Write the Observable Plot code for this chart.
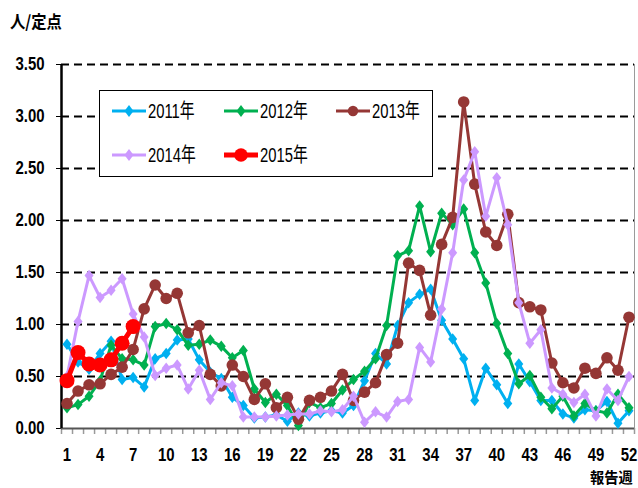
<!DOCTYPE html>
<html>
<head>
<meta charset="utf-8">
<script src="https://cdn.jsdelivr.net/npm/d3@7"></script>
<script src="https://cdn.jsdelivr.net/npm/@observablehq/plot@0.6"></script>
<style>
  html, body { margin: 0; padding: 0; background: #fff; }
  #wrap { position: relative; width: 638px; height: 488px; overflow: hidden;
          font-family: "Liberation Sans", Arial, sans-serif; }
  #ylab { position: absolute; left: 10px; top: 12px; font-size: 17px; line-height: 17px; font-weight: bold;
          font-family: "Noto Sans CJK JP", sans-serif; transform: scaleX(0.9); transform-origin: left top; white-space: nowrap; }
  #xlab { position: absolute; left: 590px; top: 468px; font-size: 15px; line-height: 17px; font-weight: bold;
          font-family: "Noto Sans CJK JP", sans-serif; transform: scaleX(0.95); transform-origin: left top; white-space: nowrap; }
  #legend { position: absolute; left: 99px; top: 90px; width: 332px; height: 85px;
            border: 1.5px solid #000; background: #fff; }
  .item { position: absolute; display: flex; align-items: center; white-space: nowrap; }
  .item svg { display: block; margin-right: 2px; flex: none; }
  .item span { display: inline-block; font-size: 20px; line-height: 24px;
               font-family: "Liberation Sans", "Noto Sans CJK JP", sans-serif;
               transform: scaleX(0.74); transform-origin: left center; }
</style>
</head>
<body>
<div id="wrap">
  <div id="chart"></div>
  <div id="ylab">人/定点</div>
  <div id="xlab">報告週</div>
  <div id="legend"></div>
</div>
<script>
const weeks = d3.range(1, 53);
const xTickWeeks = [1, 4, 7, 10, 13, 16, 19, 22, 25, 28, 31, 34, 37, 40, 43, 46, 49, 52];
const yTicks = [0, 0.5, 1.0, 1.5, 2.0, 2.5, 3.0, 3.5];
const seriesNames = ["2011年", "2012年", "2013年", "2014年", "2015年"];
const seriesColors = ["#00B0F0", "#00B050", "#953735", "#CC99FF", "#FF0000"];

const v2011 = [0.81, 0.64, 0.57, 0.72, 0.84, 0.47, 0.49, 0.40, 0.67, 0.72,
               0.85, 0.86, 0.66, 0.54, 0.48, 0.30, 0.22, 0.10, 0.11, 0.13,
               0.07, 0.15, 0.12, 0.15, 0.17, 0.15, 0.22, 0.46, 0.72, 0.62,
               0.99, 1.21, 1.29, 1.34, 1.04, 0.86, 0.67, 0.27, 0.58, 0.42,
               0.24, 0.62, 0.45, 0.27, 0.27, 0.14, 0.10, 0.18, 0.17, 0.26,
               0.05, 0.17];
const v2012 = [0.20, 0.23, 0.31, 0.46, 0.80, 0.67, 0.66, 0.61, 0.98, 1.01,
               0.95, 0.80, 0.81, 0.85, 0.79, 0.68, 0.75, 0.38, 0.25, 0.33,
               0.22, 0.03, 0.25, 0.20, 0.24, 0.37, 0.47, 0.55, 0.67, 0.99,
               1.66, 1.71, 2.14, 1.70, 2.07, 1.96, 2.11, 1.69, 1.40, 1.01,
               0.72, 0.43, 0.51, 0.30, 0.19, 0.31, 0.12, 0.24, 0.17, 0.15,
               0.33, 0.20];
const v2013 = [0.24, 0.36, 0.42, 0.43, 0.52, 0.59, 0.76, 1.15, 1.38, 1.25,
               1.30, 0.92, 0.99, 0.52, 0.41, 0.61, 0.50, 0.28, 0.43, 0.20,
               0.30, 0.09, 0.27, 0.30, 0.36, 0.52, 0.27, 0.35, 0.44, 0.71,
               0.82, 1.59, 1.52, 1.09, 1.77, 2.03, 3.14, 2.35, 1.89, 1.76,
               2.06, 1.21, 1.17, 1.14, 0.63, 0.44, 0.39, 0.58, 0.53, 0.68,
               0.56, 1.07];
const v2014 = [0.50, 1.03, 1.47, 1.26, 1.33, 1.44, 1.10, 0.88, 0.51, 0.58,
               0.61, 0.38, 0.56, 0.28, 0.44, 0.41, 0.11, 0.11, 0.11, 0.12,
               0.13, 0.14, 0.14, 0.17, 0.16, 0.18, 0.31, 0.06, 0.16, 0.11,
               0.26, 0.28, 0.78, 0.64, 1.15, 1.69, 2.39, 2.66, 2.04, 2.41,
               1.96, 1.21, 0.82, 0.95, 0.39, 0.33, 0.25, 0.33, 0.12, 0.38,
               0.27, 0.50];
const v2015 = [0.46, 0.73, 0.62, 0.61, 0.66, 0.82, 0.98];

const seriesValues = [v2011, v2012, v2013, v2014, v2015];
const seriesShapes = ["diamond", "diamond", "circle", "diamond", "circle"];
const seriesR = [4.6, 4.6, 5.8, 4.6, 7.5];
const seriesW = [3, 3, 3, 3, 5];

const tallDiamond = {
  draw(ctx, size) {
    const r = Math.sqrt(size / Math.PI);
    const h = r * 1.25, w = r * 0.98;
    ctx.moveTo(0, -h); ctx.lineTo(w, 0); ctx.lineTo(0, h); ctx.lineTo(-w, 0); ctx.closePath();
  }
};

const marks = [
  Plot.gridY(yTicks.filter(d => d > 0), {stroke: "#000", strokeOpacity: 1, strokeWidth: 2, strokeDasharray: "8,5"}),
  Plot.ruleX([52.5], {stroke: "#9a9a9a", strokeWidth: 1}),
  Plot.axisY(yTicks, {tickSize: 5, tickPadding: 12, tickFormat: d => d.toFixed(2),
    fontSize: 18, fontWeight: "bold", stroke: "#000", label: null}),
  Plot.axisX(d3.range(0.5, 53, 1), {tickSize: 6, stroke: "#9a9a9a", strokeWidth: 1.5, tickFormat: () => "", label: null}),
  Plot.axisX(xTickWeeks, {tickSize: 0, tickPadding: 20, fontSize: 18, fontWeight: "bold", label: null}),
  Plot.ruleY([0], {stroke: "#555", strokeWidth: 2}),
  Plot.ruleX([0.5], {stroke: "#000", strokeWidth: 2.5})
];

seriesValues.forEach((vals, i) => {
  const data = vals.map((v, k) => ({week: weeks[k], value: v}));
  marks.push(Plot.line(data, {x: "week", y: "value", stroke: seriesColors[i], strokeWidth: seriesW[i]}));
  marks.push(Plot.dot(data, {x: "week", y: "value", fill: seriesColors[i], stroke: "none",
    r: seriesR[i], symbol: seriesShapes[i] === "diamond" ? tallDiamond : "circle"}));
});

const chart = Plot.plot({
  width: 638,
  height: 488,
  marginLeft: 61,
  marginRight: 4,
  marginTop: 64,
  marginBottom: 60,
  style: {fontFamily: '"Liberation Sans", Arial, sans-serif', background: "#fff", overflow: "visible"},
  x: {domain: [0.5, 52.5], label: null, axis: null},
  y: {domain: [0, 3.5], label: null, axis: null},
  marks
});
document.getElementById("chart").appendChild(chart);

// squeeze the axis tick labels horizontally (narrow font look)
d3.select(chart).selectAll("text").each(function () {
  const t = this.getAttribute("transform");
  if (t) this.setAttribute("transform", t + " scale(0.83,1)");
});

// Legend
const legendPos = [[12, 8], [124, 8], [236, 8], [12, 52], [124, 52]];
const legend = d3.select("#legend");
seriesNames.forEach((name, i) => {
  const item = legend.append("div").attr("class", "item")
    .style("left", legendPos[i][0] + "px").style("top", legendPos[i][1] + "px");
  const svg = item.append("svg").attr("width", 34).attr("height", 24);
  svg.append("line").attr("x1", 0).attr("x2", 34).attr("y1", 12).attr("y2", 12)
    .attr("stroke", seriesColors[i]).attr("stroke-width", seriesW[i]);
  if (seriesShapes[i] === "circle") {
    svg.append("circle").attr("cx", 17).attr("cy", 12).attr("r", seriesR[i] * 0.9).attr("fill", seriesColors[i]);
  } else {
    svg.append("path").attr("d", "M17,6L21.5,12L17,18L12.5,12Z").attr("fill", seriesColors[i]);
  }
  item.append("span").text(name);
});
</script>
</body>
</html>
